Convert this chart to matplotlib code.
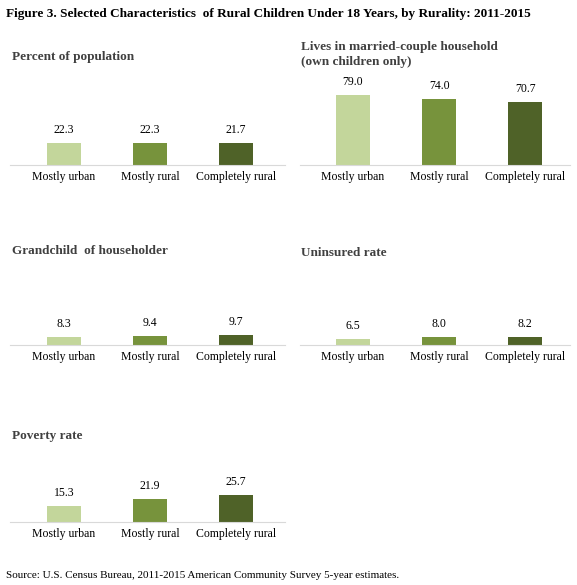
import matplotlib
matplotlib.use("Agg")
import matplotlib.pyplot as plt

categories = ["Mostly urban", "Mostly rural", "Completely rural"]
panel_titles = ["Percent of population", "Lives in married-couple household\n(own children only)",
                "Grandchild  of householder", "Uninsured rate", "Poverty rate"]
values = [[22.3, 22.3, 21.7], [79.0, 74.0, 70.7], [8.3, 9.4, 9.7], [6.5, 8.0, 8.2], [15.3, 21.9, 25.7]]
colors = ["#c3d69b", "#77933c", "#4f6228"]

W, H = 577, 585
fig = plt.figure(figsize=(W/100, H/100), dpi=100)
plt.rcParams['font.family'] = ['Liberation Serif']

fig.text(6/W, 1-14/H, "Figure 3. Selected Characteristics  of Rural Children Under 18 Years, by Rurality: 2011-2015",
         fontsize=9.5, fontweight='bold', va='center', ha='left')
fig.text(6/W, 1-575/H, "Source: U.S. Census Bureau, 2011-2015 American Community Survey 5-year estimates.",
         fontsize=8, va='center', ha='left')

# (x_left, x_right, baseline, title_y, title_x, xlim, px_per_unit)
specs = [(10, 285, 165, 57, 12, (-0.628, 2.57), 1.0),
         (300, 570, 165, 41, 301, (-0.616, 2.52), 0.89),
         (10, 285, 345, 251, 12, (-0.628, 2.57), 1.0),
         (300, 570, 345, 253, 301, (-0.616, 2.52), 1.0),
         (10, 285, 522, 436, 12, (-0.628, 2.57), 1.05)]
for (xl, xr, base, ty, tx, xlim, ppu), vals, title in zip(specs, values, panel_titles):
    hpx = 80
    ax = fig.add_axes([xl/W, 1-base/H, (xr-xl)/W, hpx/H])
    ax.bar(range(3), vals, width=0.4, color=colors)
    for i, v in enumerate(vals):
        ax.annotate(f"{v:.1f}", (i, v), xytext=(0, 5), textcoords='offset points',
                    ha='center', va='bottom', fontsize=8.5)
    ax.set_xlim(*xlim)
    ax.set_ylim(0, hpx/ppu)
    ax.set_yticks([])
    ax.set_xticks(range(3))
    ax.set_xticklabels(categories, fontsize=8.5)
    ax.tick_params(axis='x', length=0, pad=4)
    for s in ['top', 'left', 'right']:
        ax.spines[s].set_visible(False)
    ax.spines['bottom'].set_color('#d9d9d9')
    ax.patch.set_alpha(0)
    fig.text(tx/W, 1-ty/H, title, fontsize=9.5, fontweight='bold', color='#404040',
             va='top' if '\n' in title else 'center', ha='left', linespacing=1.35)

fig.savefig("out.png", dpi=100)
